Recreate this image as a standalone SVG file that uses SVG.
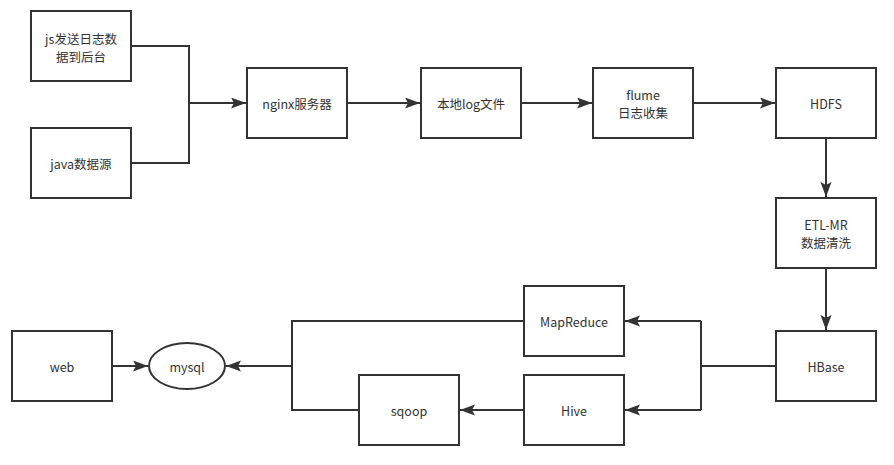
<svg xmlns="http://www.w3.org/2000/svg" width="894" height="465" viewBox="0 0 894 465">
<style>
.n{fill:#fff;stroke:#333;stroke-width:2}
.t{font-family:"Noto Sans CJK SC","Microsoft YaHei",sans-serif;font-size:12.5px;fill:#333;text-anchor:middle;dominant-baseline:central}
.c{fill:none;stroke:#333;stroke-width:2}
</style>
<defs>
<marker id="a" markerUnits="userSpaceOnUse" markerWidth="16" markerHeight="12" refX="15" refY="5.5" orient="auto">
<path d="M0,0 L15,5.5 L0,11 L3,5.5 z" fill="#333"/>
</marker>
</defs>
<rect width="894" height="465" fill="#fff"/>
<g id="connectors">
<path class="c" d="M131,46 H189 V163 H131"/>
<path class="c" d="M189,103 H246" marker-end="url(#a)"/>
<path class="c" d="M347,103 H420" marker-end="url(#a)"/>
<path class="c" d="M521,103 H592" marker-end="url(#a)"/>
<path class="c" d="M693,103 H775" marker-end="url(#a)"/>
<path class="c" d="M826,138 V197" marker-end="url(#a)"/>
<path class="c" d="M826,268 V330" marker-end="url(#a)"/>
<path class="c" d="M776,366 H701"/>
<path class="c" d="M701,321 V410"/>
<path class="c" d="M701,321 H625" marker-end="url(#a)"/>
<path class="c" d="M701,410 H625" marker-end="url(#a)"/>
<path class="c" d="M523,410 H460" marker-end="url(#a)"/>
<path class="c" d="M523,321 H292 V410 H359"/>
<path class="c" d="M292,366 H226" marker-end="url(#a)"/>
<path class="c" d="M112,366 H148" marker-end="url(#a)"/>
</g>
<g id="js"><rect class="n" x="31" y="11" width="100" height="70"/><text class="t" x="81" y="38">js发送日志数</text><text class="t" x="81" y="56">据到后台</text></g>
<g id="java"><rect class="n" x="31" y="128" width="100" height="70"/><text class="t" x="81" y="163">java数据源</text></g>
<g id="nginx"><rect class="n" x="247" y="68" width="100" height="70"/><text class="t" x="297" y="103">nginx服务器</text></g>
<g id="log"><rect class="n" x="421" y="68" width="100" height="70"/><text class="t" x="471" y="103">本地log文件</text></g>
<g id="flume"><rect class="n" x="593" y="68" width="100" height="70"/><text class="t" x="643" y="94">flume</text><text class="t" x="643" y="112">日志收集</text></g>
<g id="hdfs"><rect class="n" x="776" y="68" width="100" height="70"/><text class="t" x="826" y="103">HDFS</text></g>
<g id="etl"><rect class="n" x="776" y="198" width="100" height="70"/><text class="t" x="826" y="224">ETL-MR</text><text class="t" x="826" y="242">数据清洗</text></g>
<g id="hbase"><rect class="n" x="776" y="331" width="100" height="70"/><text class="t" x="826" y="366">HBase</text></g>
<g id="mapreduce"><rect class="n" x="524" y="286" width="100" height="70"/><text class="t" x="574" y="321">MapReduce</text></g>
<g id="hive"><rect class="n" x="524" y="375" width="100" height="70"/><text class="t" x="574" y="410">Hive</text></g>
<g id="sqoop"><rect class="n" x="359" y="375" width="100" height="70"/><text class="t" x="409" y="410">sqoop</text></g>
<g id="mysql"><ellipse class="n" cx="187" cy="366" rx="38" ry="23"/><text class="t" x="187" y="366">mysql</text></g>
<g id="web"><rect class="n" x="12" y="331" width="100" height="70"/><text class="t" x="62" y="366">web</text></g>
</svg>
